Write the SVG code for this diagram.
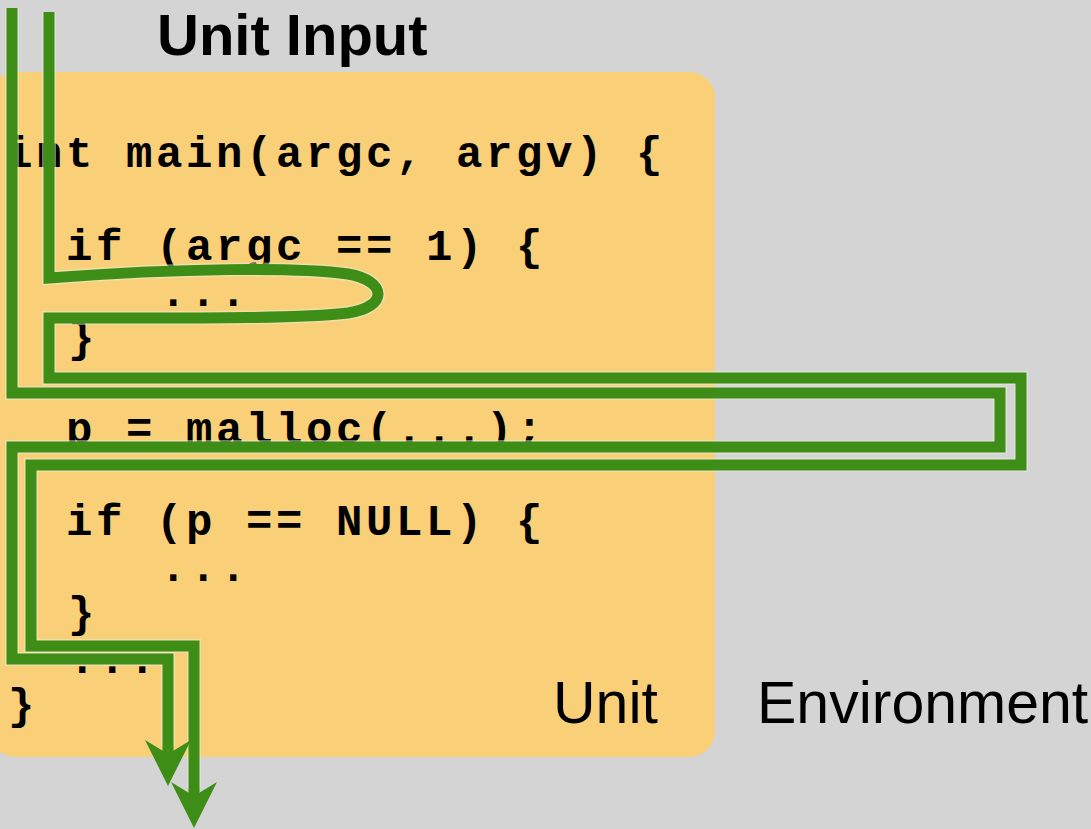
<svg xmlns="http://www.w3.org/2000/svg" width="1091" height="829" viewBox="0 0 1091 829">
  <style>
    .code { font-family: "Liberation Mono", "Courier New", monospace; font-weight: bold; font-size: 44px; letter-spacing: 3.6px; fill: #000; }
    .lbl { font-family: "Liberation Sans", Arial, sans-serif; font-size: 59px; fill: #000; }
    .title { font-family: "Liberation Sans", Arial, sans-serif; font-weight: bold; font-size: 58px; fill: #000; }
    .flow { fill: none; stroke: #3d8d16; stroke-width: 11; stroke-linejoin: miter; stroke-linecap: butt; }
    .halo { fill: none; stroke: #e6eedb; stroke-opacity: 0.5; stroke-width: 14; stroke-linejoin: miter; }
  </style>
  <defs>
    <marker id="arrow" markerUnits="userSpaceOnUse" markerWidth="60" markerHeight="60" viewBox="-2 -30 60 60" refX="14" refY="0" orient="auto">
      <path d="M0,-23 L46,0 L0,23 L14,0 Z" fill="#3d8d16"/>
    </marker>
  </defs>
  <rect x="0" y="0" width="1091" height="829" fill="#d4d4d4"/>

  <g id="unit">
    <rect x="-10" y="72" width="725" height="685" rx="26" ry="26" fill="#f9d078"/>
    <text class="code" x="6" y="167">int main(argc, argv) {</text>
    <text class="code" x="66" y="260">if (argc == 1) {</text>
    <text class="code" x="160" y="306">...</text>
    <text class="code" x="68" y="352">}</text>
    <text class="code" x="66" y="443">p = malloc(...);</text>
    <text class="code" x="66" y="535">if (p == NULL) {</text>
    <text class="code" x="160" y="581">...</text>
    <text class="code" x="68" y="627">}</text>
    <text class="code" x="69" y="673">...</text>
    <text class="code" x="8" y="719">}</text>
    <text class="lbl" x="553" y="723">Unit</text>
  </g>

  <g id="environment">
    <text class="lbl" x="757" y="723">Environment</text>
  </g>

  <g id="unit-input">
    <text class="title" x="157" y="55">Unit Input</text>
  </g>

  <g id="connectors">
    <path class="halo" d="M12,8 V393 H1000 V447 H12 V659 H168 V746"/>
    <path class="halo" d="M49,12 V278 C180,268 300,267 348,274 C388,281 388,307 348,313 C300,319 180,318 49,318 V378 H1021 V465 H31 V646 H194 V788"/>
    <path id="path-a" class="flow" d="M12,8 V393 H1000 V447 H12 V659 H168 V754" marker-end="url(#arrow)"/>
    <path id="path-b" class="flow" d="M49,12 V278 C180,268 300,267 348,274 C388,281 388,307 348,313 C300,319 180,318 49,318 V378 H1021 V465 H31 V646 H194 V796" marker-end="url(#arrow)"/>
  </g>
</svg>
